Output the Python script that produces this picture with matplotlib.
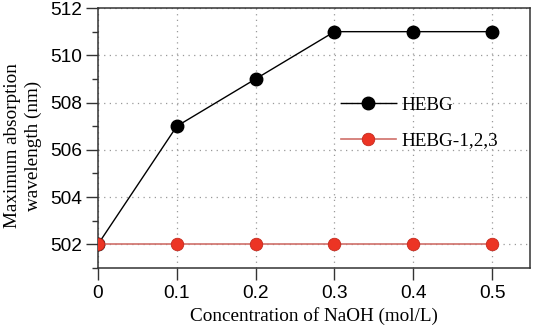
import matplotlib.pyplot as plt
from matplotlib.ticker import MultipleLocator

conc = [0, 0.1, 0.2, 0.3, 0.4, 0.5]
hebg = [502, 507, 509, 511, 511, 511]
hebg123 = [502, 502, 502, 502, 502, 502]

sans = ['Liberation Sans', 'DejaVu Sans']
serif = ['Liberation Serif', 'DejaVu Serif']

fig = plt.figure(figsize=(5.36, 3.32), dpi=100)
ax = fig.add_axes([0.1828, 0.1928, 0.806, 0.783])

ax.plot(conc, hebg, color='black', lw=1, marker='o', ms=9,
        mfc='black', mec='black', label='HEBG', zorder=3)
ax.plot(conc, hebg123, color='#cf6f6a', lw=1.2, marker='o', ms=9,
        mfc='#ec3424', mec='#c42a1e', mew=0.6, label='HEBG-1,2,3', zorder=3)

ax.set_xlim(0, 0.548)
ax.set_ylim(501, 512)
ax.set_xticks(conc)
ax.set_xticklabels(['0', '0.1', '0.2', '0.3', '0.4', '0.5'])
ax.yaxis.set_major_locator(MultipleLocator(2))
ax.yaxis.set_minor_locator(MultipleLocator(1))

ax.tick_params(axis='both', which='major', direction='out', length=8.6, width=1,
               labelsize=13.8, color='#333333')
ax.tick_params(axis='x', pad=3.5)
ax.tick_params(axis='y', pad=2.5)
ax.tick_params(axis='y', which='minor', direction='out', length=4.3, width=1, color='#333333')
for lab in ax.get_xticklabels() + ax.get_yticklabels():
    lab.set_family(sans)

for s in ax.spines.values():
    s.set_linewidth(1.1)
    s.set_color('#333333')

ax.grid(True, which='major', linestyle=(0, (1, 3.5)), color='#999999', lw=0.9)
ax.set_axisbelow(True)

ax.set_xlabel('Concentration of NaOH (mol/L)', family=serif, fontsize=13.8, labelpad=4)
ax.set_ylabel('Maximum absorption\nwavelength (nm)', family=serif, fontsize=13.8,
              linespacing=1.25)
ax.yaxis.set_label_coords(-0.13, 0.47)

leg = ax.legend(loc='upper left', bbox_to_anchor=(0.545, 0.69), frameon=False,
                prop={'family': serif, 'size': 13.8}, handlelength=2.85,
                handletextpad=0.3, labelspacing=0.95, borderaxespad=0)

fig.savefig('out.png', dpi=100)
